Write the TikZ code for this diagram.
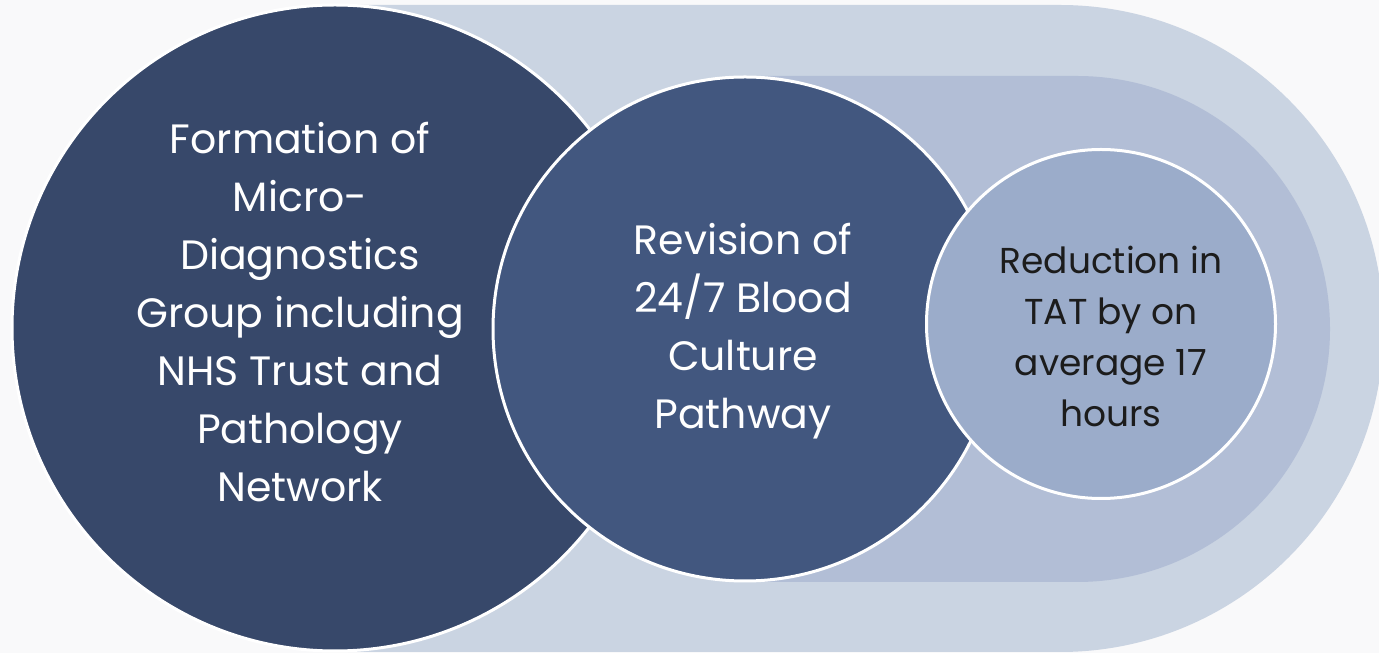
\documentclass[tikz,border=0pt]{standalone}
\usepackage{fontspec}
\setmainfont{Poppins}
\definecolor{pagebg}{HTML}{F9F9FA}
\definecolor{bandout}{HTML}{CAD4E2}
\definecolor{bandin}{HTML}{B2BED6}
\definecolor{stepone}{HTML}{37486A}
\definecolor{steptwo}{HTML}{42577F}
\definecolor{stepthree}{HTML}{9BACCA}
\definecolor{darktext}{HTML}{1C1C1C}

\begin{document}
\begin{tikzpicture}[x=1pt, y=1pt,
    disc/.style={circle, draw=white, line width=3pt, inner sep=0pt},
    bigtext/.style={align=center, text=white, font=\fontsize{41}{58}\selectfont},
    smalltext/.style={align=center, text=darktext, font=\fontsize{36}{51}\selectfont}]
    % page
    \fill[pagebg] (0,0) rectangle (1379,653);
    \useasboundingbox (0,0) rectangle (1379,653);

    % bands behind the circles
    \fill[bandout] (335,648) -- (1060,648) arc (90:-90:323.5) -- (335,1) -- cycle;
    \fill[bandin] (745,577) -- (1077,577) arc (90:-90:253) -- (745,71) -- cycle;

    % circles
    \node[disc, fill=stepone, minimum size=646pt] (formation) at (335,325) {};
    \node[disc, fill=steptwo, minimum size=504pt] (revision) at (745,324) {};
    \node[disc, fill=stepthree, minimum size=349pt] (reduction) at (1101,329) {};

    % texts
    \node[bigtext] (formationtext) at ([xshift=-35pt, yshift=16pt]formation.center)
        {Formation of\\Micro-\\Diagnostics\\Group including\\NHS Trust and\\Pathology\\Network};
    \node[bigtext] (revisiontext) at ([xshift=-2pt, yshift=-2pt]revision.center)
        {Revision of\\24/7 Blood\\Culture\\Pathway};
    \node[smalltext] (reductiontext) at ([xshift=10pt, yshift=-12pt]reduction.center)
        {Reduction in\\TAT by on\\average 17\\hours};
\end{tikzpicture}
\end{document}
